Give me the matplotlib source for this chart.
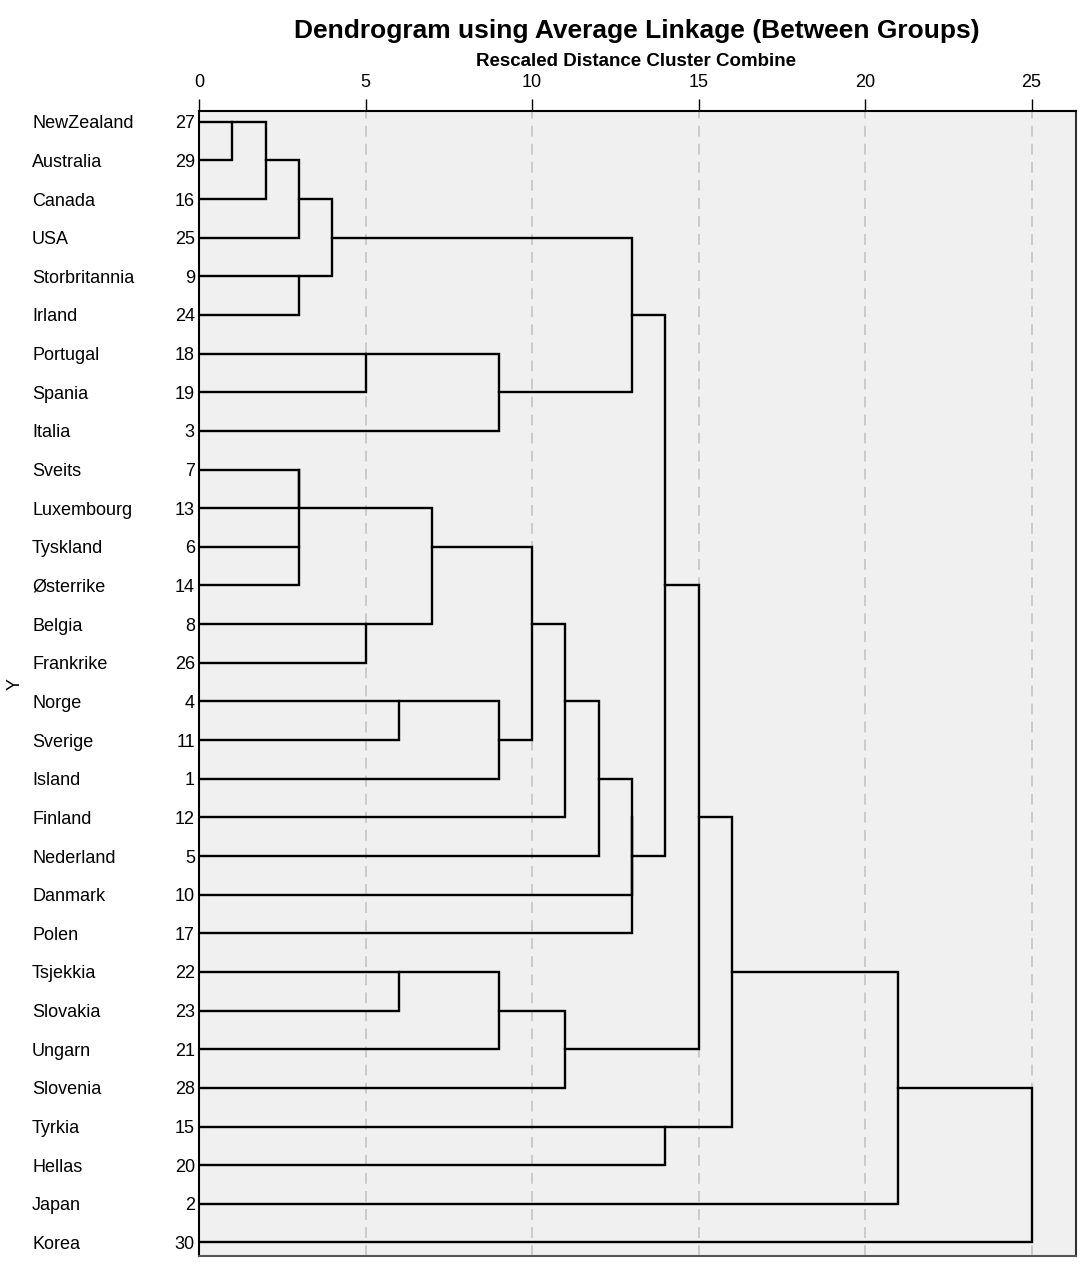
import matplotlib.pyplot as plt
from matplotlib.transforms import blended_transform_factory

plt.rcParams['font.family'] = ['Liberation Sans', 'DejaVu Sans']

# Data: leaves top to bottom, SPSS case numbers
countries = ["NewZealand", "Australia", "Canada", "USA", "Storbritannia", "Irland",
             "Portugal", "Spania", "Italia", "Sveits", "Luxembourg", "Tyskland",
             "Østerrike", "Belgia", "Frankrike", "Norge", "Sverige", "Island",
             "Finland", "Nederland", "Danmark", "Polen", "Tsjekkia", "Slovakia",
             "Ungarn", "Slovenia", "Tyrkia", "Hellas", "Japan", "Korea"]
case_numbers = [27, 29, 16, 25, 9, 24, 18, 19, 3, 7, 13, 6, 14, 8, 26, 4, 11, 1,
                12, 5, 10, 17, 22, 23, 21, 28, 15, 20, 2, 30]

# merges: (node a, node b, rescaled distance); new nodes numbered from 30
merge_a = [0, 30, 31, 4, 11, 9, 35, 32, 6, 13, 15, 22, 36, 38, 40, 41, 42, 46, 45,
           47, 49, 50, 37, 52, 26, 53, 55, 56, 57]
merge_b = [1, 2, 3, 5, 12, 10, 34, 33, 7, 14, 16, 23, 39, 8, 17, 24, 44, 18, 25,
           19, 20, 21, 43, 51, 27, 48, 54, 28, 29]
merge_dist = [1, 2, 3, 3, 3, 3, 3, 4, 5, 5, 6, 6, 7, 9, 9, 9, 10, 11, 11,
              12, 13, 13, 13, 14, 14, 15, 16, 21, 25]

fig = plt.figure(figsize=(10.88, 12.70), dpi=100)
ax = fig.add_axes([199 / 1088, 1 - 1256 / 1270, 877 / 1088, 1145.3 / 1270])
ax.set_facecolor("#f0f0f0")

# dashed grid
for g in [5, 10, 15, 20, 25]:
    ax.axvline(g, color="#c8c8c8", lw=1.3, ls=(0, (6, 4)), zorder=0)

# dendrogram (SPSS style: merged cluster sits on the upper middle row)
pos = {i: i for i in range(len(countries))}
height = {i: 0 for i in range(len(countries))}
node = len(countries)
for a, b, d in zip(merge_a, merge_b, merge_dist):
    ya, yb = pos[a], pos[b]
    ax.plot([height[a], d, d, height[b]], [ya, ya, yb, yb],
            color="black", lw=1.7, solid_joinstyle="miter", zorder=2)
    pos[node] = (min(ya, yb) + max(ya, yb)) // 2
    height[node] = d
    node += 1

ax.set_xlim(0, 877 / 33.3)
ax.set_ylim(29.35, -0.285)

ax.xaxis.tick_top()
ax.set_xticks([0, 5, 10, 15, 20, 25])
ax.tick_params(axis="x", length=9, width=1, pad=5, labelsize=13, color="black")
ax.set_yticks(range(len(countries)))
ax.set_yticklabels([str(n) for n in case_numbers])
ax.tick_params(axis="y", length=0, pad=3, labelsize=13)

for s in ["top", "left"]:
    ax.spines[s].set_color("black")
    ax.spines[s].set_linewidth(1.5)
ax.spines["right"].set_color("#333333")
ax.spines["right"].set_linewidth(1.5)
ax.spines["bottom"].set_color("#555555")
ax.spines["bottom"].set_linewidth(1.5)

trans = blended_transform_factory(fig.transFigure, ax.transData)
for i, name in enumerate(countries):
    ax.text(32 / 1088, i, name, transform=trans, ha="left", va="center_baseline",
            fontsize=13)

fig.text(15 / 1088, 0.5 * ((1 - 111 / 1270) + (1 - 1256 / 1270)), "Y",
         rotation=90, ha="center", va="center", fontsize=13)

fig.text(637 / 1088, 1 - 31 / 1270, "Dendrogram using Average Linkage (Between Groups)",
         ha="center", va="center", fontsize=19, fontweight="bold")
fig.text(636 / 1088, 1 - 61 / 1270, "Rescaled Distance Cluster Combine",
         ha="center", va="center", fontsize=13.5, fontweight="bold")

fig.savefig("out.png", dpi=100)
